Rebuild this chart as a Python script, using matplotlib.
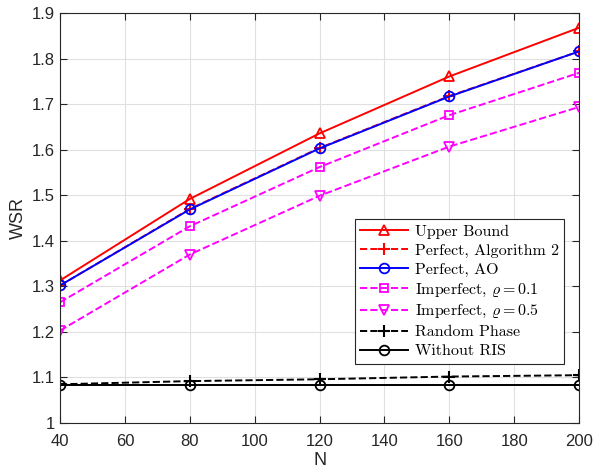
import matplotlib
matplotlib.use('Agg')
import matplotlib.pyplot as plt

N = [40, 80, 120, 160, 200]
upper = [1.313, 1.492, 1.636, 1.761, 1.868]
perf_alg2 = [1.302, 1.470, 1.604, 1.718, 1.816]
perf_ao = [1.302, 1.469, 1.603, 1.717, 1.816]
imp_01 = [1.265, 1.432, 1.562, 1.676, 1.769]
imp_05 = [1.203, 1.370, 1.499, 1.607, 1.694]
random_phase = [1.085, 1.092, 1.096, 1.102, 1.105]
no_ris = [1.083, 1.083, 1.083, 1.083, 1.083]

labels = ['Upper Bound', 'Perfect, Algorithm 2', 'Perfect, AO',
          r'Imperfect, $\varrho = 0.1$', r'Imperfect, $\varrho = 0.5$',
          'Random Phase', 'Without RIS']

plt.rcParams['font.family'] = 'Liberation Sans'
plt.rcParams['mathtext.fontset'] = 'cm'

fig = plt.figure(figsize=(5.94, 4.7), dpi=100)
ax = fig.add_axes([0.101, 0.1, 0.874, 0.872])

ms = 7
lw = 1.4
ax.plot(N, upper, '-', color='red', marker='^', mfc='none', ms=ms, mew=1.3, lw=lw, label=labels[0])
ax.plot(N, perf_alg2, '--', color='red', marker='+', ms=ms+2, mew=1.5, lw=lw, label=labels[1])
ax.plot(N, perf_ao, '-', color='blue', marker='o', mfc='none', ms=ms, mew=1.3, lw=lw, label=labels[2])
ax.plot(N, imp_01, '--', color='magenta', marker='s', mfc='none', ms=ms-1, mew=1.3, lw=lw, label=labels[3])
ax.plot(N, imp_05, '--', color='magenta', marker='v', mfc='none', ms=ms, mew=1.3, lw=lw, label=labels[4])
ax.plot(N, random_phase, '--', color='black', marker='+', ms=ms+2, mew=1.5, lw=lw, label=labels[5])
ax.plot(N, no_ris, '-', color='black', marker='o', mfc='none', ms=ms, mew=1.3, lw=lw, label=labels[6])

ax.set_xlim(40, 200)
ax.set_ylim(1, 1.9)
ax.set_xticks(range(40, 201, 20))
ax.set_yticks([1, 1.1, 1.2, 1.3, 1.4, 1.5, 1.6, 1.7, 1.8, 1.9])
ax.set_yticklabels(['1', '1.1', '1.2', '1.3', '1.4', '1.5', '1.6', '1.7', '1.8', '1.9'])
ax.tick_params(direction='in', labelsize=12, colors='#262626', length=5, top=True, right=True)
ax.tick_params(axis='x', pad=8)
ax.grid(True, color='#e0e0e0', lw=0.8)
ax.set_axisbelow(True)
for s in ax.spines.values():
    s.set_color('#262626')
    s.set_linewidth(0.8)
ax.set_xlabel('N', fontsize=13, color='#262626', labelpad=2)
ax.set_ylabel('WSR', fontsize=13, color='#262626')

leg = ax.legend(loc='lower right', bbox_to_anchor=(0.971, 0.144), fancybox=False, edgecolor='#262626',
                framealpha=1, handlelength=3.0, handletextpad=0.4, borderpad=0.35, borderaxespad=0,
                labelspacing=0.3, prop={'family': 'cmr10', 'size': 11.5})
leg.get_frame().set_linewidth(0.8)

fig.savefig('out.png', dpi=100)
